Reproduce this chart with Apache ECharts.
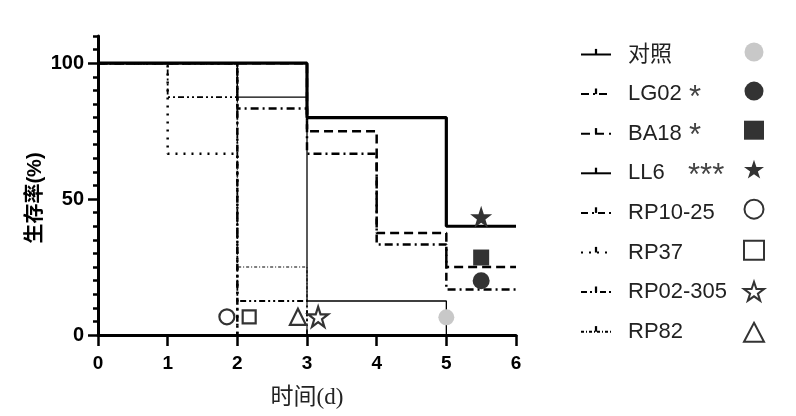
<!DOCTYPE html>
<html><head><meta charset="utf-8">
<script src="https://cdn.jsdelivr.net/npm/echarts@6/dist/echarts.min.js"></script>
<style>html,body{margin:0;padding:0;background:#fff}#c{width:796px;height:416px}</style>
</head><body><div id="c"></div>
<script>
// ---- data ----
const groups = ['对照', 'LG02', 'BA18', 'LL6', 'RP10-25', 'RP37', 'RP02-305', 'RP82'];
const significance = ['', '*', '*', '***', '', '', '', ''];
const ctrlTimes = [0, 2, 3, 5];        const ctrlSurv = [100, 87.5, 12.5, 0];
const lg02Times = [0, 2, 3, 4, 5, 6];  const lg02Surv = [100, 83.3, 66.7, 33.3, 16.7, 16.7];
const ba18Times = [0, 3, 4, 5, 6];     const ba18Surv = [100, 75, 37.5, 25, 25];
const ll6Times = [0, 3, 5, 6];         const ll6Surv = [100, 80, 40, 40];
const rp1025Times = [0, 2];            const rp1025Surv = [100, 0];
const rp37Times = [0, 1, 2];           const rp37Surv = [100, 66.7, 0];
const rp02305Times = [0, 1, 2, 3];     const rp02305Surv = [100, 87.5, 12.5, 0];
const rp82Times = [0, 2, 3];           const rp82Surv = [100, 25, 0];
const markerX = [5, 5.5, 5.5, 5.5, 1.85, 2.17, 3.16, 2.87];
const markerY = [6.5, 20, 28.5, 43.5, 6.7, 6.7, 6.7, 6.7];
const xTicks = [0, 1, 2, 3, 4, 5, 6];
const yLabelTicks = [0, 50, 100];

// ---- styles ----
const STAR = 'path://M50,0 L61.8,35.1 L98.9,35.1 L68.9,57.1 L80.2,91.9 L50,70.5 L19.8,91.9 L31.1,57.1 L1.1,35.1 L38.2,35.1 Z';
const TICK = 'path://M40,0 L60,0 L60,50 L40,50 Z M0,100 L0,100 M100,100 L100,100';
const curves = [
  [ctrlTimes, ctrlSurv], [lg02Times, lg02Surv], [ba18Times, ba18Surv], [ll6Times, ll6Surv],
  [rp1025Times, rp1025Surv], [rp37Times, rp37Surv], [rp02305Times, rp02305Surv], [rp82Times, rp82Surv]
];
const lineStyles = [
  {width: 1.3, type: 'solid'},
  {width: 2.5, type: [8, 4, 2, 4]},
  {width: 2.5, type: [9, 5]},
  {width: 3.2, type: 'solid'},
  {width: 2.5, type: [7, 4, 2, 4]},
  {width: 2.5, type: [2, 6]},
  {width: 1.8, type: [6, 3, 2, 3, 2, 3]},
  {width: 1.1, type: [3, 2, 1, 2]}
];
const markerDefs = [
  {symbol: 'circle', size: 16, fill: '#c8c8c8', border: null},
  {symbol: 'circle', size: 17, fill: '#333', border: null},
  {symbol: 'rect', size: 16, fill: '#333', border: null},
  {symbol: STAR, size: 22, fill: '#333', border: null},
  {symbol: 'circle', size: 15, fill: '#fff', border: '#333'},
  {symbol: 'rect', size: 13, fill: '#fff', border: '#333'},
  {symbol: STAR, size: 20, fill: '#fff', border: '#333'},
  {symbol: 'triangle', size: 16, fill: '#fff', border: '#333'}
];

const series = [];
groups.forEach((g, i) => {
  const [t, s] = curves[i];
  series.push({
    name: g, type: 'line', step: 'end', symbol: TICK, showSymbol: false,
    data: t.map((v, k) => [v, s[k]]),
    lineStyle: Object.assign({color: '#000', cap: 'butt'}, lineStyles[i]),
    itemStyle: {color: '#000', borderWidth: 0},
    z: i === 3 ? 5 : 3, silent: true
  });
});
const markerNames = groups.map(g => g + ' 标记');
groups.forEach((g, i) => {
  const m = markerDefs[i];
  series.push({
    name: markerNames[i], type: 'scatter', symbol: m.symbol, symbolSize: m.size,
    data: [[markerX[i], markerY[i]]],
    itemStyle: m.border ? {color: '#fff', borderColor: m.border, borderWidth: 2.2, opacity: 1}
                        : {color: m.fill, borderWidth: 0, opacity: 1},
    z: 10, silent: true
  });
});

const chart = echarts.init(document.getElementById('c'), null, {renderer: 'canvas'});
const FONT = "'Liberation Sans', Arial, 'Noto Sans CJK SC', sans-serif";
chart.setOption({
  animation: false,
  backgroundColor: '#fff',
  grid: {left: 98, right: 280, top: 36, bottom: 81, containLabel: false},
  xAxis: {
    type: 'value', min: 0, max: 6, interval: 1,
    name: '时间(d)', nameLocation: 'middle', nameGap: 51,
    nameTextStyle: {fontFamily: "'Liberation Serif', 'Noto Sans CJK SC', serif", fontSize: 23, color: '#222'},
    axisLine: {show: true, onZero: false, lineStyle: {color: '#000', width: 3}},
    axisTick: {show: true, length: 11, inside: false, lineStyle: {color: '#000', width: 2.5}},
    axisLabel: {fontFamily: FONT, fontWeight: 'bold', fontSize: 19, color: '#000', margin: 19,
      formatter: v => xTicks.includes(v) ? String(v) : ''},
    splitLine: {show: false}
  },
  yAxis: [
    {
      type: 'value', min: 0, max: 110, interval: 5, position: 'left',
      name: '生存率(%)', nameLocation: 'middle', nameGap: 53, nameRotate: 90,
      nameTextStyle: {fontFamily: "'Liberation Sans', 'Noto Sans CJK SC', sans-serif", fontWeight: 'bold', fontSize: 20, color: '#000', padding: [0, 25, 0, 0]},
      axisLine: {show: true, onZero: false, lineStyle: {color: '#000', width: 3}},
      axisTick: {show: true, length: 5, lineStyle: {color: '#000', width: 2.5}},
      axisLabel: {show: false},
      splitLine: {show: false}
    },
    {
      type: 'value', min: 0, max: 110, interval: 5, position: 'left',
      axisLine: {show: false},
      axisTick: {show: true, length: 10, customValues: yLabelTicks, lineStyle: {color: '#000', width: 2.5}},
      axisLabel: {show: true, customValues: yLabelTicks, fontFamily: FONT, fontWeight: 'bold', fontSize: 20, color: '#000', margin: 14},
      splitLine: {show: false}
    }
  ],
  legend: [
    {
      data: groups, orient: 'vertical', left: 580, top: 41.5, itemGap: 13.6, padding: 0,
      itemWidth: 30, itemHeight: 14, selectedMode: false,
      textStyle: {fontFamily: FONT, fontSize: 22, color: '#222', lineHeight: 26, padding: [0, 0, 0, 12]}
    },
    {
      data: markerNames, orient: 'vertical', left: 743, top: 42.5, itemGap: 20.1, padding: 0,
      itemWidth: 20, itemHeight: 19, selectedMode: false,
      formatter: () => '',
      textStyle: {fontSize: 22, lineHeight: 26}
    }
  ],
  graphic: [
    {type: 'text', left: 689, top: 83, style: {text: significance[1], font: "31px 'Liberation Sans'", fill: '#444'}},
    {type: 'text', left: 689, top: 121, style: {text: significance[2], font: "31px 'Liberation Sans'", fill: '#444'}},
    {type: 'text', left: 688, top: 161, style: {text: significance[3], font: "31px 'Liberation Sans'", fill: '#444'}}
  ],
  series: series
});
</script></body></html>
